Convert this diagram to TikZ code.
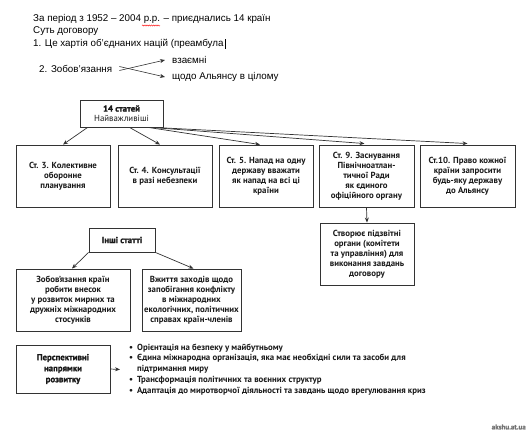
\documentclass[tikz,border=0pt]{standalone}
\usepackage{fontspec}
\setmainfont{PT Sans}
\newfontfamily\heavy{PT Sans}[BoldFeatures={FakeBold=1.6}]
\newfontfamily\topfont{Liberation Sans}
\usetikzlibrary{arrows.meta,decorations.pathmorphing}
\begin{document}
\begin{tikzpicture}[x=1pt,y=-1pt,
  box/.style={draw=black!80, line width=0.9pt, align=center, inner sep=1pt,
    font=\bfseries\fontsize{8.8}{10}\selectfont, text=black!90},
  arr/.style={line width=0.7pt, draw=black!80, -{Stealth[length=5pt,width=4pt]}},
  toptext/.style={anchor=west, inner sep=0pt, font=\topfont\fontsize{9.8}{12}\selectfont}
]
\useasboundingbox (0,0) rectangle (529,431);
% top text
\node[toptext] (t1) at (33,19) {За період з 1952 – 2004 р.р. – приєднались 14 країн};
\node[toptext] (t2) at (33,31.5) {Суть договору};
\node[toptext] (t3) at (33,44) {1. Це хартія об’єднаних націй (преамбула};
\draw[line width=1.1pt] (t3.east) ++(1.5,-5) -- ++(0,10);
\draw[red, line width=0.4pt, decorate, decoration={snake,amplitude=0.6pt,segment length=2.2pt}] (142,25.5) -- (160,25.5);
\node[toptext] (t4) at (39,68.5) {2. Зобов’язання};
\node[toptext] (t5) at (172,60) {взаємні};
\node[toptext] (t6) at (172,77) {щодо Альянсу в цілому};
\draw[arr,line width=0.6pt] ([xshift=7pt,yshift=-2pt]t4.east) -- ([xshift=-7pt]t5.west);
\draw[arr,line width=0.6pt] ([xshift=7pt,yshift=2pt]t4.east) -- ([xshift=-7pt]t6.west);

% main boxes
\node[box, minimum width=83pt, minimum height=27pt] (b0) at (121.5,113.5)
  {{\heavy\bfseries 14 статей}\\\mdseries Найважливіші};
\node[box, minimum width=94pt, minimum height=62pt] (b1) at (63,176)
  {Ст. 3. Колективне\\оборонне\\планування};
\node[box, minimum width=94pt, minimum height=62pt] (b2) at (165,176)
  {Ст. 4. Консультації\\в разі небезпеки};
\node[box, minimum width=94pt, minimum height=62pt] (b3) at (266,176)
  {Ст. 5. Напад на одну\\державу вважати\\як напад на всі ці\\країни};
\node[box, minimum width=95pt, minimum height=62pt] (b4) at (366.5,176)
  {Ст. 9. Заснування\\Північноатлан-\\тичної Ради\\як єдиного\\офіційного органу};
\node[box, minimum width=95pt, minimum height=62pt] (b5) at (467.5,176)
  {Ст.10. Право кожної\\країни запросити\\будь-яку державу\\до Альянсу};
\node[box, minimum width=94pt, minimum height=62pt] (b6) at (367,254)
  {Створює підзвітні\\органи (комітети\\та управління) для\\виконання завдань\\договору};
\node[box, minimum width=66pt, minimum height=24pt] (b7) at (122,240)
  {\heavy\bfseries Інші статті};
\node[box, minimum width=114pt, minimum height=62pt] (b8) at (73,300)
  {Зобов’язання країн\\робити внесок\\у розвиток мирних та\\дружніх міжнародних\\стосунків};
\node[box, minimum width=99pt, minimum height=62pt] (b9) at (191.5,300)
  {Вжиття заходів щодо\\запобігання конфлікту\\в міжнародних\\екологічних, політичних\\справах країн-членів};
\node[box, minimum width=94pt, minimum height=48pt, font=\heavy\bfseries\fontsize{8.8}{11}\selectfont] (b10) at (63,369)
  {Перспективні\\напрямки\\розвитку};

% bullets
\node[anchor=west, inner sep=0pt, font=\bfseries\fontsize{8.8}{10.75}\selectfont, text=black!90] (bl) at (129,369.5)
  {\begin{tabular}{@{}l@{\hspace{4pt}}l@{}}
  \textbullet & Орієнтація на безпеку у майбутньому\\
  \textbullet & Єдина міжнародна організація, яка має необхідні сили та засоби для\\
   & підтримання миру\\
  \textbullet & Трансформація політичних та воєнних структур\\
  \textbullet & Адаптація до миротворчої діяльності та завдань щодо врегулювання криз
  \end{tabular}};

% connectors
\draw[arr] ([xshift=8pt]b0.south west) -- (b1.north);
\draw[arr] ([xshift=50pt]b0.south west) -- ([xshift=-5pt]b2.north);
\draw[arr] ([xshift=-15pt]b0.south east) -- ([xshift=-6pt]b3.north);
\draw[arr] ([xshift=-12pt]b0.south east) -- ([xshift=-2pt,yshift=1pt]b4.north);
\draw[arr] ([xshift=-9pt]b0.south east) -- ([yshift=1pt]b5.north);
\draw[arr] (b4.south) -- (b6.north);
\draw[arr] (b7.south west) -- ([xshift=-1pt]b8.north);
\draw[arr] (b7.south east) -- ([xshift=2pt]b9.north);
\draw[arr] (b10.east) -- ([xshift=-9pt]bl.west);

% watermark
\node[anchor=east, inner sep=0pt, font=\heavy\bfseries\fontsize{7}{8}\selectfont, text=black!55] (wm) at (526,427) {akshu.at.ua};
\end{tikzpicture}
\end{document}
